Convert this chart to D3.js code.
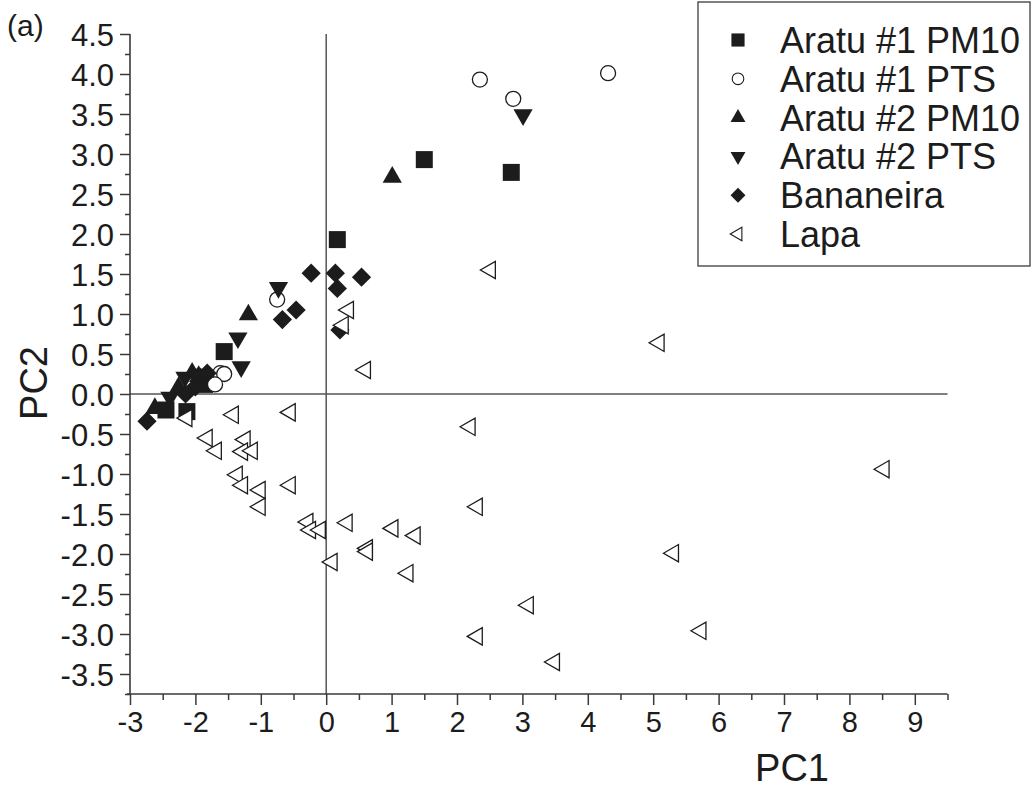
<!DOCTYPE html>
<html>
<head>
<meta charset="utf-8">
<script src="https://cdn.jsdelivr.net/npm/d3@7"></script>
<style>
  html, body { margin: 0; padding: 0; background: #fff; }
  svg { display: block; font-family: "Liberation Sans", Arial, sans-serif; }
</style>
</head>
<body>
<svg id="chart" width="1033" height="791"></svg>
<script>
// PCA scores (PC1, PC2) for each sampling site / particle fraction
const aratu1PM10 = [[1.50, 2.93], [2.83, 2.77], [0.17, 1.93], [-1.56, 0.53], [-1.90, 0.21], [-1.86, 0.12], [-2.13, -0.22], [-2.45, -0.20]];
const aratu1PTS  = [[2.35, 3.93], [2.86, 3.69], [4.31, 4.01], [-0.75, 1.18], [-1.62, 0.26], [-1.56, 0.25], [-1.70, 0.12]];
const aratu2PM10 = [[1.01, 2.71], [-1.19, 0.99], [-2.26, 0.08], [-2.05, 0.26], [-2.62, -0.18], [-1.95, 0.22]];
const aratu2PTS  = [[3.01, 3.49], [-0.73, 1.33], [-1.35, 0.70], [-1.30, 0.34], [-2.39, -0.04], [-2.16, 0.21]];
const bananeira  = [[-0.23, 1.51], [0.14, 1.51], [0.54, 1.46], [0.17, 1.32], [-0.46, 1.05], [-0.67, 0.93], [0.21, 0.80],
                    [-2.74, -0.34], [-1.93, 0.21], [-2.00, 0.09], [-1.82, 0.26], [-2.15, 0.00]];
const lapa       = [[2.51, 1.55], [5.09, 0.64], [0.34, 1.05], [0.26, 0.86], [0.60, 0.30],
                    [-0.55, -0.23], [-1.42, -0.26], [-2.13, -0.30],
                    [-1.82, -0.55], [-1.68, -0.71], [-1.24, -0.57], [-1.28, -0.72], [-1.13, -0.71],
                    [-1.36, -1.01], [-1.28, -1.14], [-1.01, -1.20], [-1.01, -1.41], [-0.55, -1.14],
                    [-0.28, -1.60], [-0.24, -1.70], [-0.09, -1.70], [0.32, -1.61], [0.09, -2.10],
                    [0.63, -1.93], [0.63, -1.97], [1.02, -1.68], [1.36, -1.77], [1.25, -2.24],
                    [2.20, -0.41], [8.53, -0.94], [2.31, -1.41], [5.31, -1.99], [3.09, -2.64],
                    [2.31, -3.03], [5.73, -2.96], [3.49, -3.35]];

const seriesNames = ["Aratu #1 PM10", "Aratu #1 PTS", "Aratu #2 PM10", "Aratu #2 PTS", "Bananeira", "Lapa"];
const xTicks = [-3, -2, -1, 0, 1, 2, 3, 4, 5, 6, 7, 8, 9];
const yTicks = [4.5, 4.0, 3.5, 3.0, 2.5, 2.0, 1.5, 1.0, 0.5, 0.0, -0.5, -1.0, -1.5, -2.0, -2.5, -3.0, -3.5];

const svg = d3.select("#chart");
const ink = "#1c1c1c";
const axisCol = "#3a3a3a";

const x = d3.scaleLinear().domain([-3, 9.5]).range([130, 947.5]);
const y = d3.scaleLinear().domain([-3.75, 4.5]).range([694, 34]);

// Plain hyphen-minus for negative tick labels
const fmtX = v => String(v);
const fmtY = v => v.toFixed(1);

// Marker styles per series
const styles = [
  { type: d3.symbolSquare,   size: 289, rot: 0,   fill: ink,    stroke: "none" },
  { type: d3.symbolCircle,   size: 177, rot: 0,   fill: "#fff", stroke: ink },
  { type: d3.symbolTriangle, size: 160, rot: 0,   fill: ink,    stroke: "none" },
  { type: d3.symbolTriangle, size: 160, rot: 180, fill: ink,    stroke: "none" },
  { type: d3.symbolSquare,   size: 185, rot: 45,  fill: ink,    stroke: "none" },
  { type: d3.symbolTriangle, size: 130, rot: -90, fill: "#fff", stroke: ink }
];
const data = [aratu1PM10, aratu1PTS, aratu2PM10, aratu2PTS, bananeira, lapa];

// Zero reference lines
svg.append("line").attr("x1", x(-3)).attr("x2", x(9.5)).attr("y1", y(0)).attr("y2", y(0))
  .attr("stroke", "#555").attr("stroke-width", 1.5);
svg.append("line").attr("x1", x(0)).attr("x2", x(0)).attr("y1", y(4.5)).attr("y2", y(-3.75))
  .attr("stroke", "#555").attr("stroke-width", 1.5);

// Axes with major labelled ticks and unlabelled minor ticks
const xAxis = svg.append("g").attr("transform", `translate(0,${y(-3.75)})`);
xAxis.call(d3.axisBottom(x).tickValues(d3.range(-3, 9.51, 0.5)).tickSize(6).tickFormat(""));
xAxis.call(g => g.selectAll(".tick line").filter(d => Number.isInteger(d)).attr("y2", 11));
xAxis.call(g => g.selectAll(".tick").each(function(d) {
  if (xTicks.includes(d)) {
    d3.select(this).append("text").attr("y", 38).attr("fill", ink)
      .attr("font-size", 29).attr("text-anchor", "middle").text(fmtX(d));
  }
}));

const yAxis = svg.append("g").attr("transform", `translate(${x(-3)},0)`);
yAxis.call(d3.axisLeft(y).tickValues(d3.range(-3.75, 4.51, 0.25)).tickSize(5).tickFormat(""));
yAxis.call(g => g.selectAll(".tick line").filter(d => Math.abs(d * 2 - Math.round(d * 2)) < 1e-6).attr("x2", -10));
yAxis.call(g => g.selectAll(".tick").each(function(d) {
  const hit = yTicks.find(t => Math.abs(t - d) < 1e-6);
  if (hit !== undefined) {
    d3.select(this).append("text").attr("x", -16).attr("dy", "0.36em").attr("fill", ink)
      .attr("font-size", 31).attr("text-anchor", "end").text(fmtY(hit));
  }
}));
[xAxis, yAxis].forEach(g => {
  g.selectAll(".domain").attr("stroke", axisCol).attr("stroke-width", 1.6);
  g.selectAll(".tick line").attr("stroke", axisCol).attr("stroke-width", 1.5);
});
xAxis.select(".domain").attr("d", `M${x(-3) - 3},0H${x(9.5)}`);
yAxis.select(".domain").attr("d", `M0,${y(4.5)}V${y(-3.75)}`);

// Points
data.forEach((pts, i) => {
  const s = styles[i];
  const sym = d3.symbol().type(s.type).size(s.size);
  svg.append("g").selectAll("path").data(pts).join("path")
    .attr("d", sym)
    .attr("transform", d => `translate(${x(d[0])},${y(d[1])}) rotate(${s.rot})`)
    .attr("fill", s.fill).attr("stroke", s.stroke).attr("stroke-width", 1.3);
});

// Axis titles and panel letter
svg.append("text").attr("x", 792).attr("y", 781)
  .attr("text-anchor", "middle").attr("font-size", 38).attr("fill", ink).text("PC1");
svg.append("text").attr("transform", `translate(47,${y(0) - 11}) rotate(-90)`)
  .attr("text-anchor", "middle").attr("font-size", 38).attr("fill", ink).text("PC2");
svg.append("text").attr("x", 7).attr("y", 36).attr("font-size", 30).attr("fill", ink).text("(a)");

// Legend
const leg = svg.append("g");
leg.append("rect").attr("x", 698).attr("y", 2).attr("width", 332).attr("height", 264)
  .attr("fill", "#fff").attr("stroke", "#555").attr("stroke-width", 1.5);
seriesNames.forEach((name, i) => {
  const s = styles[i];
  const cy = 40 + i * 38.8;
  leg.append("path").attr("d", d3.symbol().type(s.type).size(s.size * 0.6))
    .attr("transform", `translate(738,${cy}) rotate(${s.rot})`)
    .attr("fill", s.fill).attr("stroke", s.stroke).attr("stroke-width", 1.1);
  leg.append("text").attr("x", 780).attr("y", cy).attr("dy", "0.36em")
    .attr("font-size", 36).attr("fill", ink).text(name);
});
</script>
</body>
</html>
